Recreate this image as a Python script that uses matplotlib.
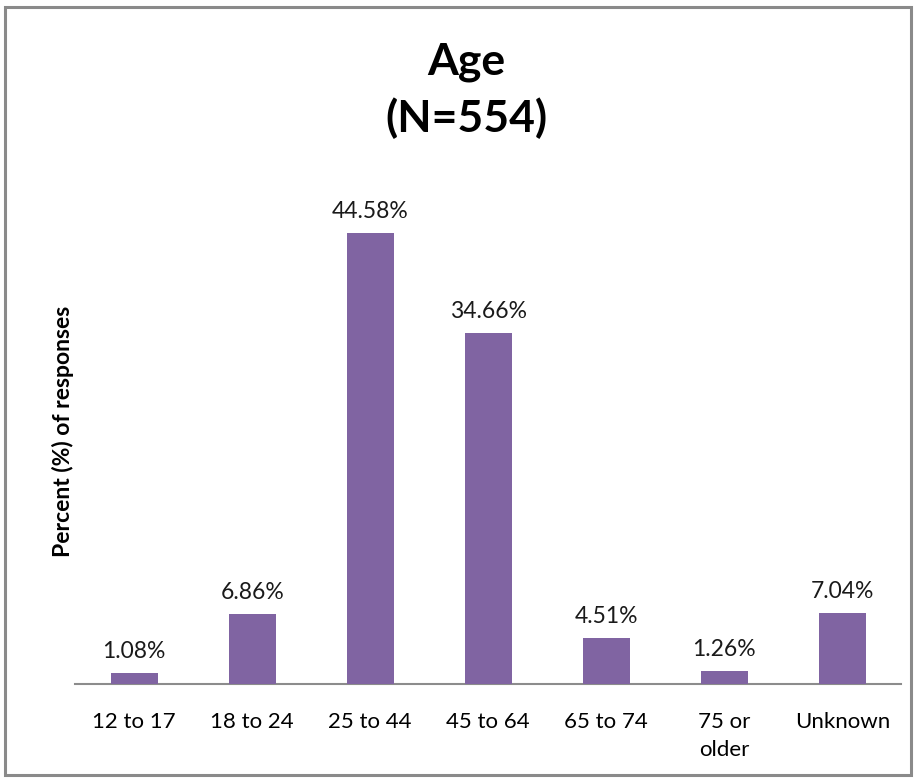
import matplotlib
matplotlib.use("Agg")
import matplotlib.pyplot as plt
from matplotlib.patches import Rectangle

plt.rcParams["font.family"] = ["Lato", "DejaVu Sans"]

categories = ["12 to 17", "18 to 24", "25 to 44", "45 to 64", "65 to 74",
              "75 or\nolder", "Unknown"]
values = [1.08, 6.86, 44.58, 34.66, 4.51, 1.26, 7.04]
labels = ["1.08%", "6.86%", "44.58%", "34.66%", "4.51%", "1.26%", "7.04%"]

BAR = "#8064A2"

fig = plt.figure(figsize=(9.16, 7.78), dpi=100)
ax = fig.add_axes([0.082, 0.121, 0.902, 0.650])

x = list(range(len(categories)))
ax.bar(x, values, width=0.4, color=BAR, zorder=3)
for xi, v, lab in zip(x, values, labels):
    ax.annotate(lab, (xi, v), textcoords="offset points", xytext=(0, 8),
                ha="center", va="bottom", fontsize=16.5, color="#1a1a1a")

ax.set_xlim(-0.5, len(categories) - 0.5)
ax.set_ylim(0, 50)
ax.set_xticks(x)
ax.set_xticklabels(categories, fontsize=16, linespacing=1.55)
ax.tick_params(axis="x", length=0, pad=20)
ax.set_yticks([])
for s in ["top", "right", "left"]:
    ax.spines[s].set_visible(False)
ax.spines["bottom"].set_color("#8c8c8c")
ax.spines["bottom"].set_linewidth(1.5)

ax.set_ylabel("Percent (%) of responses", fontsize=16.5, fontweight="bold",
              labelpad=1)

fig.text(0.509, 0.884, "Age\n(N=554)", ha="center", va="center",
         fontsize=32, fontweight="bold", linespacing=1.45)

# outer chart border
fig.patches.append(Rectangle((0.006, 0.004), 0.989, 0.987,
                             transform=fig.transFigure, fill=False,
                             edgecolor="#8a8a8a", linewidth=2.2))

fig.savefig("out.png", dpi=100, facecolor="white")
